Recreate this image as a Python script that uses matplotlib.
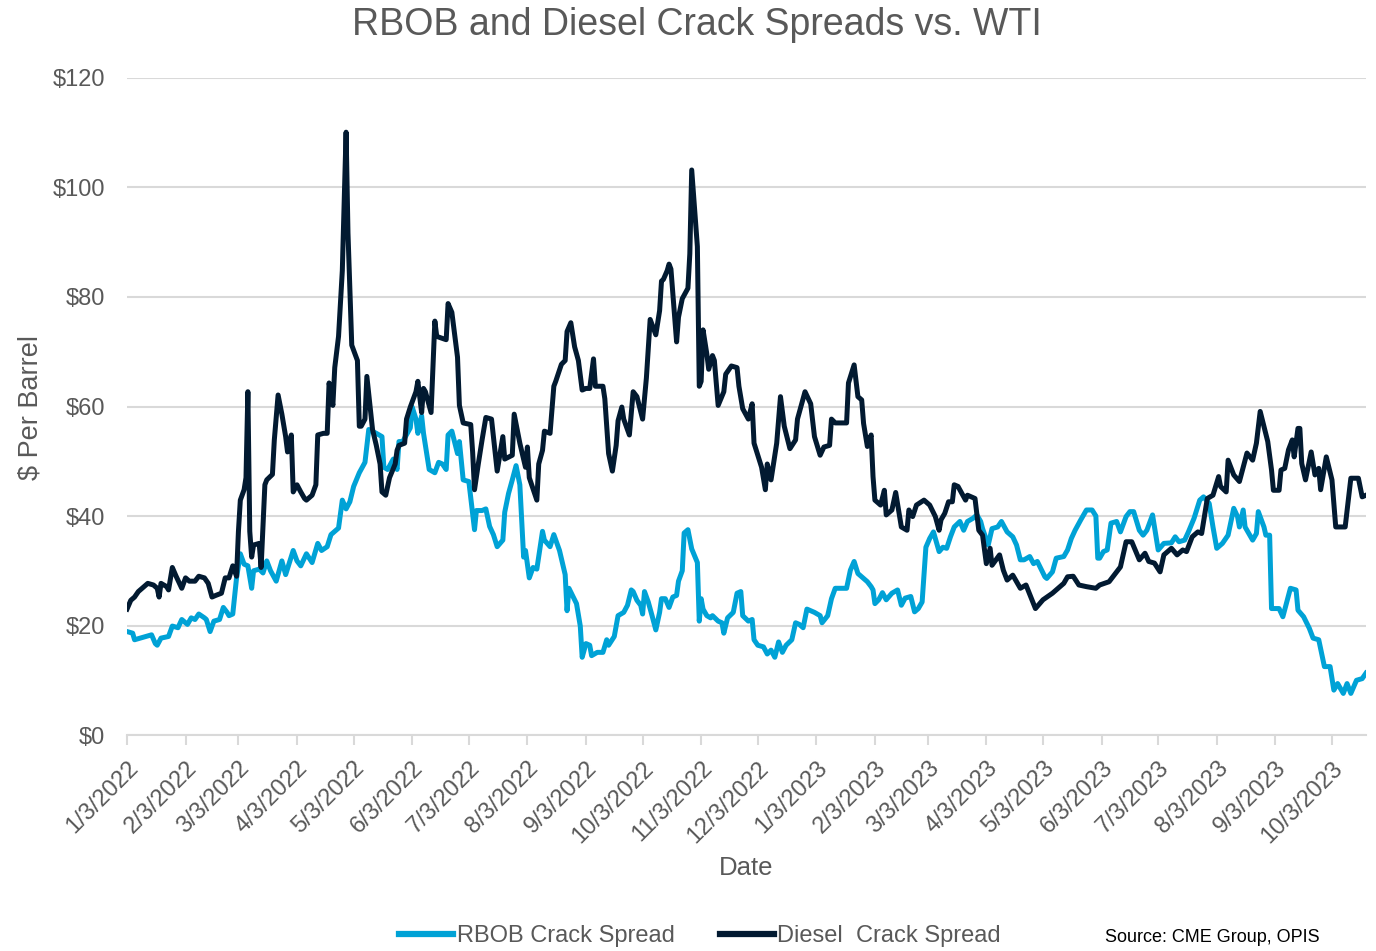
import matplotlib.pyplot as plt
import matplotlib.ticker as mticker
from matplotlib.lines import Line2D
import pandas as pd

plt.rcParams["font.family"] = ["Liberation Sans", "DejaVu Sans"]

# RBOB crack spread vs. WTI, $/bbl
rbob_dates = [
    "2022-01-03", "2022-01-06", "2022-01-07", "2022-01-10", "2022-01-13", "2022-01-16", "2022-01-18",
    "2022-01-19", "2022-01-21", "2022-01-25", "2022-01-27", "2022-01-30", "2022-02-01", "2022-02-04",
    "2022-02-06", "2022-02-08", "2022-02-10", "2022-02-13", "2022-02-14", "2022-02-16", "2022-02-18",
    "2022-02-21", "2022-02-23", "2022-02-25", "2022-02-26", "2022-02-28", "2022-03-02", "2022-03-04",
    "2022-03-06", "2022-03-08", "2022-03-10", "2022-03-11", "2022-03-14", "2022-03-16", "2022-03-18",
    "2022-03-20", "2022-03-23", "2022-03-26", "2022-03-28", "2022-04-01", "2022-04-03", "2022-04-05",
    "2022-04-08", "2022-04-11", "2022-04-14", "2022-04-16", "2022-04-19", "2022-04-21", "2022-04-25",
    "2022-04-27", "2022-04-29", "2022-05-01", "2022-05-03", "2022-05-06", "2022-05-09", "2022-05-11",
    "2022-05-15", "2022-05-18", "2022-05-19", "2022-05-21", "2022-05-24", "2022-05-26", "2022-05-27",
    "2022-05-29", "2022-06-02", "2022-06-03", "2022-06-05", "2022-06-06", "2022-06-08", "2022-06-09",
    "2022-06-12", "2022-06-15", "2022-06-17", "2022-06-19", "2022-06-21", "2022-06-22", "2022-06-24",
    "2022-06-27", "2022-06-28", "2022-06-30", "2022-07-03", "2022-07-06", "2022-07-07", "2022-07-10",
    "2022-07-12", "2022-07-14", "2022-07-16", "2022-07-18", "2022-07-21", "2022-07-22", "2022-07-24",
    "2022-07-26", "2022-07-28", "2022-07-30", "2022-08-01", "2022-08-02", "2022-08-04", "2022-08-06",
    "2022-08-08", "2022-08-11", "2022-08-12", "2022-08-15", "2022-08-17", "2022-08-20", "2022-08-23",
    "2022-08-24", "2022-08-25", "2022-08-29", "2022-08-31", "2022-09-01", "2022-09-03", "2022-09-05",
    "2022-09-06", "2022-09-09", "2022-09-12", "2022-09-14", "2022-09-15", "2022-09-18", "2022-09-20",
    "2022-09-23", "2022-09-25", "2022-09-27", "2022-09-28", "2022-09-30", "2022-10-02", "2022-10-03",
    "2022-10-04", "2022-10-06", "2022-10-08", "2022-10-10", "2022-10-12", "2022-10-13", "2022-10-15",
    "2022-10-17", "2022-10-19", "2022-10-21", "2022-10-22", "2022-10-24", "2022-10-25", "2022-10-27",
    "2022-10-29", "2022-11-01", "2022-11-02", "2022-11-03", "2022-11-04", "2022-11-06", "2022-11-08",
    "2022-11-09", "2022-11-12", "2022-11-14", "2022-11-15", "2022-11-17", "2022-11-20", "2022-11-22",
    "2022-11-24", "2022-11-25", "2022-11-28", "2022-11-30", "2022-12-01", "2022-12-03", "2022-12-06",
    "2022-12-08", "2022-12-10", "2022-12-12", "2022-12-14", "2022-12-16", "2022-12-18", "2022-12-21",
    "2022-12-23", "2022-12-25", "2022-12-27", "2022-12-29", "2023-01-02", "2023-01-05", "2023-01-06",
    "2023-01-09", "2023-01-11", "2023-01-13", "2023-01-19", "2023-01-21", "2023-01-23", "2023-01-25",
    "2023-01-27", "2023-01-30", "2023-02-01", "2023-02-02", "2023-02-03", "2023-02-05", "2023-02-07",
    "2023-02-09", "2023-02-12", "2023-02-15", "2023-02-17", "2023-02-19", "2023-02-22", "2023-02-24",
    "2023-02-26", "2023-02-28", "2023-03-02", "2023-03-04", "2023-03-06", "2023-03-09", "2023-03-11",
    "2023-03-13", "2023-03-15", "2023-03-17", "2023-03-20", "2023-03-22", "2023-03-24", "2023-03-27",
    "2023-03-29", "2023-03-31", "2023-04-01", "2023-04-04", "2023-04-06", "2023-04-09", "2023-04-11",
    "2023-04-14", "2023-04-17", "2023-04-19", "2023-04-21", "2023-04-23", "2023-04-26", "2023-04-28",
    "2023-04-30", "2023-05-04", "2023-05-05", "2023-05-08", "2023-05-10", "2023-05-14", "2023-05-16",
    "2023-05-18", "2023-05-20", "2023-05-23", "2023-05-26", "2023-05-29", "2023-05-31", "2023-06-01",
    "2023-06-02", "2023-06-04", "2023-06-06", "2023-06-08", "2023-06-11", "2023-06-13", "2023-06-16",
    "2023-06-18", "2023-06-20", "2023-06-23", "2023-06-25", "2023-06-27", "2023-06-30", "2023-07-03",
    "2023-07-06", "2023-07-10", "2023-07-12", "2023-07-14", "2023-07-17", "2023-07-19", "2023-07-22",
    "2023-07-25", "2023-07-27", "2023-07-30", "2023-08-01", "2023-08-03", "2023-08-06", "2023-08-09",
    "2023-08-12", "2023-08-14", "2023-08-15", "2023-08-17", "2023-08-18", "2023-08-22", "2023-08-24",
    "2023-08-25", "2023-08-28", "2023-08-29", "2023-08-31", "2023-09-01", "2023-09-05", "2023-09-07",
    "2023-09-11", "2023-09-14", "2023-09-15", "2023-09-18", "2023-09-21", "2023-09-23", "2023-09-26",
    "2023-09-29", "2023-10-02", "2023-10-04", "2023-10-06", "2023-10-09", "2023-10-11", "2023-10-13",
    "2023-10-16", "2023-10-19", "2023-10-21",
]
rbob_values = [
    18.9, 18.6, 17.4, 17.7, 18.0, 18.3, 16.7, 16.4, 17.7, 18.0, 19.9, 19.6, 21.1, 20.2,
    21.4, 21.1, 22.1, 21.4, 21.1, 18.9, 20.8, 21.1, 23.3, 22.4, 21.8, 22.1, 28.7, 33.1,
    31.2, 30.9, 26.8, 30.0, 30.3, 29.6, 31.8, 30.0, 28.1, 31.8, 29.3, 33.7, 31.8, 30.9,
    33.1, 31.5, 35.0, 33.7, 34.4, 36.6, 37.8, 42.9, 41.3, 42.6, 45.4, 47.9, 49.8, 55.8,
    55.1, 54.5, 48.9, 48.5, 50.4, 48.5, 53.6, 53.6, 56.1, 59.9, 57.7, 55.1, 58.3, 55.1,
    48.5, 47.9, 49.8, 49.5, 48.5, 54.8, 55.5, 51.4, 53.6, 46.6, 46.3, 37.5, 41.0, 41.0,
    41.3, 38.1, 36.6, 34.4, 35.6, 40.7, 44.1, 46.6, 49.2, 45.7, 32.5, 33.7, 28.7, 30.6,
    30.3, 37.2, 35.6, 34.4, 36.6, 33.7, 29.3, 22.7, 26.8, 24.0, 19.9, 14.2, 16.7, 16.4,
    14.5, 15.1, 15.1, 17.4, 16.4, 18.0, 21.8, 22.4, 23.7, 26.5, 26.2, 24.6, 23.7, 22.1,
    26.2, 24.3, 21.8, 19.2, 22.4, 24.9, 24.9, 23.3, 25.2, 25.5, 28.1, 30.0, 36.9, 37.5,
    34.0, 31.5, 20.8, 24.9, 23.0, 21.8, 21.4, 21.8, 20.8, 20.5, 18.6, 21.4, 22.4, 25.9,
    26.2, 21.8, 20.8, 21.1, 17.4, 16.4, 16.1, 14.8, 15.5, 14.2, 17.0, 15.1, 16.4, 17.4,
    20.5, 20.2, 19.6, 23.0, 22.4, 21.8, 20.5, 21.8, 24.9, 26.8, 26.8, 30.1, 31.7, 29.5,
    28.9, 28.0, 27.1, 26.5, 24.0, 24.7, 26.0, 24.7, 25.9, 26.5, 23.7, 25.0, 25.3, 22.5,
    23.1, 24.3, 34.3, 35.9, 37.1, 33.5, 34.3, 34.1, 36.2, 38.0, 39.0, 37.4, 39.0, 39.6,
    40.2, 39.0, 37.7, 34.7, 37.7, 38.0, 39.0, 37.1, 36.2, 34.7, 32.0, 32.0, 32.6, 31.3,
    31.7, 28.9, 28.6, 29.8, 32.3, 32.6, 33.8, 35.9, 37.4, 39.3, 41.1, 41.1, 40.0, 32.3,
    32.3, 33.5, 33.8, 38.7, 39.0, 37.1, 39.9, 40.8, 40.8, 37.4, 36.5, 37.4, 40.2, 33.8,
    35.0, 35.1, 36.2, 35.3, 35.6, 37.1, 39.6, 42.9, 43.5, 42.3, 38.0, 34.1, 35.0, 36.5,
    41.4, 39.9, 38.0, 41.1, 38.0, 35.6, 36.8, 40.8, 38.0, 36.5, 36.5, 23.1, 23.1, 21.6,
    26.8, 26.5, 22.8, 21.6, 19.5, 17.7, 17.4, 12.5, 12.5, 8.2, 9.4, 7.6, 9.4, 7.6,
    10.0, 10.3, 11.3,
]

# Diesel crack spread vs. WTI, $/bbl
diesel_dates = [
    "2022-01-03", "2022-01-05", "2022-01-07", "2022-01-09", "2022-01-11", "2022-01-14", "2022-01-17",
    "2022-01-19", "2022-01-20", "2022-01-21", "2022-01-24", "2022-01-25", "2022-01-27", "2022-01-29",
    "2022-02-01", "2022-02-03", "2022-02-05", "2022-02-08", "2022-02-10", "2022-02-13", "2022-02-15",
    "2022-02-17", "2022-02-19", "2022-02-22", "2022-02-24", "2022-02-26", "2022-02-28", "2022-03-02",
    "2022-03-03", "2022-03-04", "2022-03-06", "2022-03-07", "2022-03-08", "2022-03-09", "2022-03-10",
    "2022-03-11", "2022-03-14", "2022-03-15", "2022-03-17", "2022-03-18", "2022-03-21", "2022-03-22",
    "2022-03-24", "2022-03-26", "2022-03-28", "2022-03-29", "2022-03-31", "2022-04-01", "2022-04-03",
    "2022-04-05", "2022-04-07", "2022-04-08", "2022-04-11", "2022-04-13", "2022-04-14", "2022-04-17",
    "2022-04-19", "2022-04-20", "2022-04-22", "2022-04-23", "2022-04-25", "2022-04-27", "2022-04-29",
    "2022-04-30", "2022-05-02", "2022-05-05", "2022-05-06", "2022-05-07", "2022-05-09", "2022-05-10",
    "2022-05-13", "2022-05-15", "2022-05-17", "2022-05-18", "2022-05-20", "2022-05-22", "2022-05-25",
    "2022-05-26", "2022-05-27", "2022-05-30", "2022-05-31", "2022-06-02", "2022-06-05", "2022-06-06",
    "2022-06-08", "2022-06-09", "2022-06-10", "2022-06-13", "2022-06-15", "2022-06-16", "2022-06-21",
    "2022-06-22", "2022-06-24", "2022-06-27", "2022-06-28", "2022-06-30", "2022-07-04", "2022-07-05",
    "2022-07-06", "2022-07-08", "2022-07-10", "2022-07-12", "2022-07-15", "2022-07-18", "2022-07-21",
    "2022-07-22", "2022-07-26", "2022-07-27", "2022-07-30", "2022-08-02", "2022-08-03", "2022-08-04",
    "2022-08-08", "2022-08-09", "2022-08-11", "2022-08-12", "2022-08-15", "2022-08-17", "2022-08-18",
    "2022-08-21", "2022-08-23", "2022-08-24", "2022-08-26", "2022-08-28", "2022-08-30", "2022-09-01",
    "2022-09-03", "2022-09-05", "2022-09-07", "2022-09-08", "2022-09-12", "2022-09-13", "2022-09-15",
    "2022-09-17", "2022-09-19", "2022-09-20", "2022-09-22", "2022-09-23", "2022-09-26", "2022-09-28",
    "2022-09-30", "2022-10-03", "2022-10-05", "2022-10-07", "2022-10-10", "2022-10-12", "2022-10-13",
    "2022-10-14", "2022-10-16", "2022-10-17", "2022-10-18", "2022-10-21", "2022-10-22", "2022-10-24",
    "2022-10-27", "2022-10-28", "2022-10-29", "2022-11-01", "2022-11-02", "2022-11-03", "2022-11-04",
    "2022-11-06", "2022-11-07", "2022-11-09", "2022-11-10", "2022-11-12", "2022-11-15", "2022-11-16",
    "2022-11-19", "2022-11-22", "2022-11-23", "2022-11-25", "2022-11-28", "2022-11-30", "2022-12-01",
    "2022-12-05", "2022-12-07", "2022-12-08", "2022-12-10", "2022-12-13", "2022-12-15", "2022-12-17",
    "2022-12-20", "2022-12-23", "2022-12-24", "2022-12-26", "2022-12-28", "2022-12-31", "2023-01-02",
    "2023-01-05", "2023-01-07", "2023-01-10", "2023-01-11", "2023-01-13", "2023-01-19", "2023-01-20",
    "2023-01-23", "2023-01-25", "2023-01-27", "2023-01-28", "2023-01-30", "2023-02-01", "2023-02-02",
    "2023-02-03", "2023-02-06", "2023-02-08", "2023-02-09", "2023-02-12", "2023-02-14", "2023-02-17",
    "2023-02-20", "2023-02-21", "2023-02-23", "2023-02-25", "2023-03-01", "2023-03-04", "2023-03-07",
    "2023-03-09", "2023-03-10", "2023-03-12", "2023-03-14", "2023-03-16", "2023-03-17", "2023-03-19",
    "2023-03-23", "2023-03-24", "2023-03-28", "2023-03-30", "2023-04-01", "2023-04-03", "2023-04-05",
    "2023-04-06", "2023-04-10", "2023-04-12", "2023-04-14", "2023-04-17", "2023-04-21", "2023-04-24",
    "2023-04-29", "2023-05-03", "2023-05-08", "2023-05-11", "2023-05-14", "2023-05-16", "2023-05-19",
    "2023-05-22", "2023-05-26", "2023-05-31", "2023-06-02", "2023-06-07", "2023-06-13", "2023-06-16",
    "2023-06-19", "2023-06-23", "2023-06-26", "2023-06-28", "2023-07-01", "2023-07-04", "2023-07-06",
    "2023-07-10", "2023-07-13", "2023-07-16", "2023-07-18", "2023-07-21", "2023-07-24", "2023-07-26",
    "2023-07-29", "2023-08-01", "2023-08-04", "2023-08-05", "2023-08-08", "2023-08-09", "2023-08-12",
    "2023-08-15", "2023-08-19", "2023-08-22", "2023-08-24", "2023-08-26", "2023-08-30", "2023-09-01",
    "2023-09-02", "2023-09-05", "2023-09-06", "2023-09-08", "2023-09-10", "2023-09-12", "2023-09-13",
    "2023-09-15", "2023-09-16", "2023-09-17", "2023-09-19", "2023-09-22", "2023-09-24", "2023-09-26",
    "2023-09-27", "2023-09-30", "2023-10-03", "2023-10-05", "2023-10-10", "2023-10-13", "2023-10-17",
    "2023-10-19", "2023-10-21",
]
diesel_values = [
    23.0, 24.6, 25.2, 26.2, 26.8, 27.7, 27.4, 26.8, 25.2, 27.7, 27.1, 26.5, 30.6, 29.0,
    26.8, 28.7, 28.1, 28.1, 29.0, 28.7, 27.7, 25.2, 25.5, 25.9, 28.7, 28.7, 30.9, 29.0,
    37.2, 42.9, 44.8, 47.0, 62.7, 37.2, 32.5, 34.7, 35.0, 30.6, 45.7, 46.6, 47.6, 53.9,
    62.1, 58.6, 54.5, 51.7, 54.8, 44.4, 45.7, 44.4, 43.2, 42.9, 43.8, 45.7, 54.8, 55.1,
    55.1, 64.3, 60.2, 67.1, 72.8, 84.8, 110.1, 91.7, 71.2, 68.4, 56.4, 56.4, 57.7, 65.5,
    55.8, 52.9, 49.5, 44.4, 43.8, 47.0, 49.5, 52.0, 52.9, 53.3, 57.7, 59.9, 62.7, 64.6,
    58.9, 63.3, 62.7, 58.9, 75.6, 72.8, 72.2, 78.8, 77.2, 69.0, 60.2, 57.0, 56.7, 51.7,
    44.8, 49.5, 53.9, 58.0, 57.7, 48.2, 54.5, 50.4, 51.1, 58.6, 53.3, 48.9, 52.6, 47.0,
    42.9, 49.5, 52.0, 55.5, 55.1, 63.7, 64.6, 67.7, 68.4, 73.7, 75.3, 70.9, 68.4, 63.0,
    63.3, 63.3, 68.7, 63.7, 63.7, 61.4, 51.4, 48.2, 52.9, 57.4, 59.9, 57.7, 54.8, 62.7,
    61.8, 57.7, 65.2, 75.9, 73.1, 77.5, 82.9, 83.2, 84.8, 86.0, 85.1, 71.8, 76.3, 79.7,
    81.6, 87.9, 103.2, 89.2, 63.7, 64.6, 74.0, 69.6, 66.8, 69.3, 68.4, 60.2, 62.7, 65.9,
    67.4, 67.1, 63.7, 59.6, 57.7, 60.5, 53.3, 48.9, 44.8, 49.5, 46.6, 53.3, 61.8, 56.4,
    52.3, 53.9, 57.7, 60.2, 62.7, 60.5, 54.5, 51.1, 52.6, 52.9, 57.7, 57.0, 57.0, 64.3,
    67.6, 61.8, 61.2, 56.9, 52.7, 54.8, 47.2, 42.9, 42.0, 44.7, 40.2, 41.1, 44.3, 38.0,
    37.4, 41.1, 39.9, 42.0, 42.9, 42.0, 39.9, 37.4, 39.3, 40.5, 42.6, 42.6, 45.7, 45.4,
    42.9, 43.8, 43.2, 37.4, 36.5, 31.3, 34.1, 31.0, 32.9, 30.1, 28.3, 29.2, 26.8, 27.4,
    23.1, 24.7, 25.9, 26.8, 27.7, 28.9, 29.0, 27.4, 27.1, 26.8, 27.4, 28.0, 30.7, 35.3,
    35.3, 32.0, 33.2, 31.7, 31.4, 29.8, 32.9, 34.1, 32.9, 33.8, 33.5, 36.2, 37.1, 36.8,
    43.2, 43.8, 47.2, 45.4, 44.4, 50.2, 47.5, 46.3, 51.5, 50.2, 53.3, 59.1, 53.6, 48.4,
    44.7, 44.7, 48.4, 48.7, 52.1, 53.9, 50.8, 56.0, 56.0, 49.6, 46.6, 51.7, 47.5, 48.7,
    44.8, 50.8, 46.6, 38.0, 38.0, 46.9, 46.9, 43.5, 43.8,
]

x_start, x_end = "2022-01-03", "2023-10-21"
tick_dates = pd.date_range("2022-01-01", "2023-10-01", freq="MS") + pd.Timedelta(days=2)
y_ticks = [0, 20, 40, 60, 80, 100, 120]

rbob_color = "#00a2d6"
diesel_color = "#021a31"
text_color = "#595959"
grid_color = "#d9d9d9"

fig = plt.figure(figsize=(13.76, 9.51), dpi=100)
ax = fig.add_axes([0.0923, 0.2271, 0.9004, 0.6909])

ax.plot(pd.to_datetime(rbob_dates), rbob_values, color=rbob_color, linewidth=3.6,
        solid_joinstyle="round", zorder=3)
ax.plot(pd.to_datetime(diesel_dates), diesel_values, color=diesel_color, linewidth=3.6,
        solid_joinstyle="round", zorder=4)

ax.set_xlim(pd.Timestamp(x_start), pd.Timestamp(x_end))
ax.set_ylim(0, 120)
ax.set_yticks(y_ticks)
ax.yaxis.set_major_formatter(mticker.FuncFormatter(lambda v, _: f"\\${v:.0f}"))
ax.set_xticks(tick_dates)
ax.set_xticklabels([f"{d.month}/{d.day}/{d.year}" for d in tick_dates],
                   rotation=45, ha="right", rotation_mode="anchor")

ax.grid(axis="y", color=grid_color, linewidth=1.5)
ax.set_axisbelow(True)
for side in ("left", "right", "top"):
    ax.spines[side].set_visible(False)
ax.spines["bottom"].set_color(grid_color)
ax.spines["bottom"].set_linewidth(1.5)

ax.tick_params(axis="y", length=0, pad=16, labelsize=17, labelcolor=text_color)
ax.tick_params(axis="x", length=7, width=1.5, color=grid_color, direction="out",
               pad=9, labelsize=17, labelcolor=text_color)

fig.text(697 / 1376, 1 - 25 / 951, "RBOB and Diesel Crack Spreads vs. WTI",
         ha="center", va="center", fontsize=27, color=text_color)
fig.text(30 / 1376, 1 - 408 / 951, "\\$ Per Barrel", rotation=90,
         ha="center", va="center", fontsize=19.5, color=text_color)
fig.text(746 / 1376, 1 - 868 / 951, "Date", ha="center", va="center",
         fontsize=18.5, color=text_color)
fig.text(1212 / 1376, 1 - 937 / 951, "Source: CME Group, OPIS", ha="center",
         va="center", fontsize=13, color="black")

handles = [Line2D([], [], color=rbob_color, linewidth=4.5),
           Line2D([], [], color=diesel_color, linewidth=4.5)]
fig.legend(handles, ["RBOB Crack Spread", "Diesel  Crack Spread"], loc="center",
           bbox_to_anchor=(700 / 1376, 1 - 936 / 951), ncol=2, frameon=False,
           fontsize=17, labelcolor=text_color, handlelength=2.3, handletextpad=0.15,
           columnspacing=1.9, borderpad=0)

fig.savefig("out.png", dpi=100)
